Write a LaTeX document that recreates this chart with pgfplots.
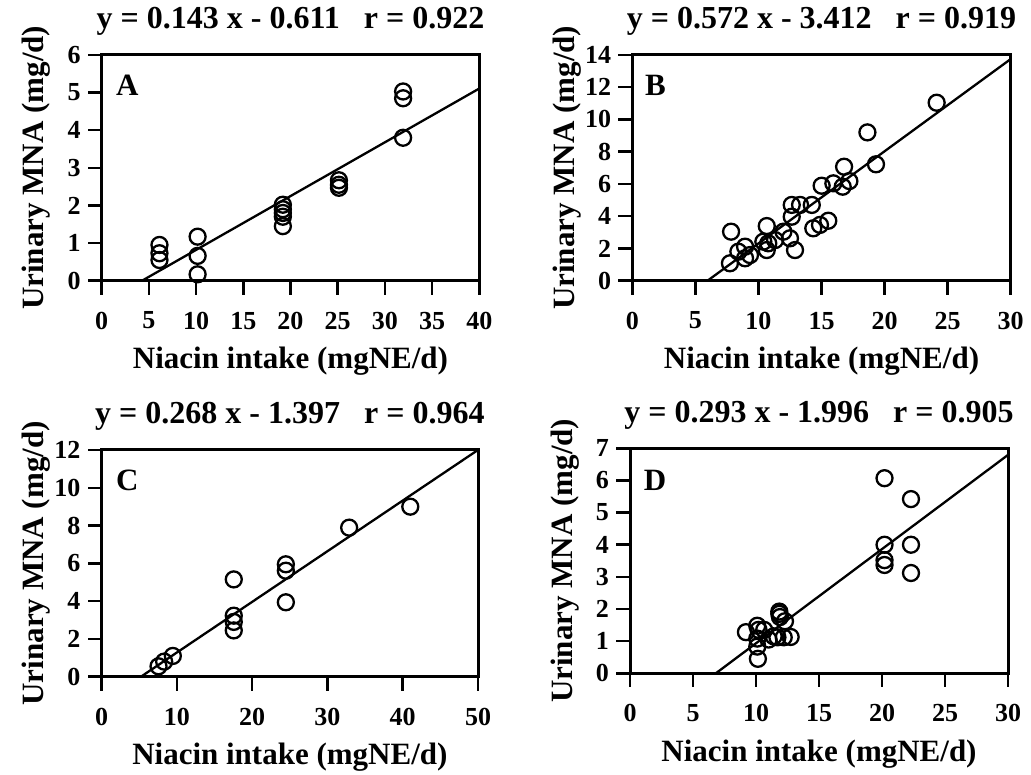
\documentclass[border=0pt]{standalone}
\usepackage{fontspec}
\setmainfont{Liberation Serif}
\usepackage{pgfplots}
\pgfplotsset{compat=1.18}
\tikzset{letter/.style={font=\fontsize{31}{36}\selectfont\bfseries, anchor=center, inner sep=0pt}}
\pgfplotsset{
  panel/.style={
    scale only axis,
    anchor=south west,
    clip=false,
    axis line style={line width=3pt},
    xtick align=inside, ytick align=inside,
    xtick pos=left, ytick pos=left,
    major tick length=-14pt,
    every tick/.style={black, line width=2.5pt},
    tick label style={font=\fontsize{26}{30}\selectfont\bfseries, inner sep=0pt},
    /pgf/number format/assume math mode=true,
    xticklabel style={anchor=north, yshift=-31pt},
    yticklabel style={anchor=east, xshift=-21pt},
    label style={font=\fontsize{31}{36}\selectfont\bfseries, inner sep=0pt},
    xlabel={Niacin intake (mgNE/d)},
    ylabel={Urinary MNA (mg/d)},
    xlabel style={at={(axis description cs:0.5,0)}, anchor=base, yshift=-88pt},
    title style={font=\fontsize{32}{38}\selectfont\bfseries, at={(axis description cs:0.5,1)}, anchor=base, yshift=20pt, inner sep=0pt},
  },
  mkticks/.style 2 args={
    after end axis/.code={
      \foreach \t in {#1} {\draw[black, line width=2.5pt] (axis cs:\t,0) -- ++(0pt,-14pt);}
      \foreach \t in {#2} {\draw[black, line width=2.5pt] (axis cs:0,\t) -- ++(-14pt,0pt);}
    }
  },
  pts/.style={only marks, mark=o, mark size=8pt, mark options={line width=2.3pt, black}},
  reg/.style={black, line width=2.3pt, no marks},
}
\begin{document}
\begin{tikzpicture}
\useasboundingbox (0pt,0pt) rectangle (1031pt,774pt);
% ---------- A ----------
\begin{axis}[panel, at={(101.7pt,493.3pt)}, width=377.6pt, height=225.7pt,
  xmin=0, xmax=40, ymin=0, ymax=6, xtick={0,5,...,40}, ytick={0,1,...,6},
  mkticks={0,5,10,15,20,25,30,35,40}{0,1,2,3,4,5,6},
  ylabel style={at={(axis description cs:-0.1536,0.5)}, anchor=base},
  title={y = 0.143 x - 0.611\hspace{0.75em}r = 0.922}]
\addplot[reg] coordinates {(4.273,0) (40,5.109)};
\addplot[pts] coordinates {
(6.12,0.95) (6.12,0.73) (6.12,0.55)
(10.16,1.17) (10.16,0.66) (10.16,0.17)
(19.19,2.02) (19.19,1.9) (19.19,1.8) (19.19,1.7) (19.19,1.45)
(25.13,2.67) (25.13,2.55) (25.13,2.47)
(31.93,5.03) (31.93,4.85) (31.93,3.8)
};
\node[letter] at (rel axis cs:0.068,0.865) {A};
\end{axis}
% ---------- B ----------
\begin{axis}[panel, at={(632.3pt,493.3pt)}, width=378.4pt, height=225.7pt,
  xmin=0, xmax=30, ymin=0, ymax=14, xtick={0,5,...,30}, ytick={0,2,...,14},
  mkticks={0,5,10,15,20,25,30}{0,2,4,6,8,10,12,14},
  ylabel style={at={(axis description cs:-0.1533,0.5)}, anchor=base},
  title={y = 0.572 x - 3.412\hspace{0.75em}r = 0.919}]
\addplot[reg] coordinates {(5.965,0) (30,13.748)};
\addplot[pts] coordinates {
(7.83,3.04) (7.74,1.08) (8.41,1.80) (8.94,2.11) (8.94,1.39) (9.33,1.59)
(10.66,3.39) (10.39,2.42) (10.78,2.32) (10.66,1.90) (11.32,2.52) (11.98,3.04)
(12.5,2.63) (12.9,1.90) (12.64,3.97) (12.64,4.70) (13.3,4.70) (14.23,4.70)
(14.35,3.25) (14.88,3.46) (15.54,3.72)
(15.01,5.89) (15.94,6.04) (16.68,5.83) (16.79,7.07) (17.21,6.18)
(18.64,9.20) (19.32,7.22) (24.13,11.04)
};
\node[letter] at (rel axis cs:0.061,0.867) {B};
\end{axis}
% ---------- C ----------
\begin{axis}[panel, at={(101.7pt,97.3pt)}, width=376.3pt, height=226.7pt,
  xmin=0, xmax=50, ymin=0, ymax=12, xtick={0,10,...,50}, ytick={0,2,...,12},
  mkticks={0,10,20,30,40,50}{0,2,4,6,8,10,12},
  ylabel style={at={(axis description cs:-0.1541,0.5)}, anchor=base},
  title={y = 0.268 x - 1.397\hspace{0.75em}r = 0.964}]
\addplot[reg] coordinates {(5.213,0) (50,12.003)};
\addplot[pts] coordinates {
(7.55,0.55) (8.3,0.8) (9.45,1.1)
(17.55,5.15) (17.55,3.23) (17.55,2.9) (17.55,2.45)
(24.47,5.95) (24.47,5.61) (24.47,3.94)
(32.88,7.89) (41.0,9.0)
};
\node[letter] at (rel axis cs:0.068,0.868) {C};
\end{axis}
% ---------- D ----------
\begin{axis}[panel, at={(630pt,100.7pt)}, width=378pt, height=225pt,
  xmin=0, xmax=30, ymin=0, ymax=7, xtick={0,5,...,30}, ytick={0,1,...,7},
  mkticks={0,5,10,15,20,25,30}{0,1,2,3,4,5,6,7},
  ylabel style={at={(axis description cs:-0.1534,0.5)}, anchor=base},
  title={y = 0.293 x - 1.996\hspace{0.75em}r = 0.905}]
\addplot[reg] coordinates {(6.812,0) (30,6.794)};
\addplot[pts] coordinates {
(9.2,1.28) (10.1,1.48) (10.2,1.35) (10.1,1.08) (10.1,0.83) (10.15,0.45)
(10.65,1.35) (11.0,1.05) (11.4,1.15) (11.85,1.92) (11.85,1.85) (11.9,1.75)
(12.3,1.62) (11.7,1.12) (12.2,1.12) (12.75,1.13)
(20.2,6.07) (22.3,5.42) (20.2,4.0) (22.3,4.0) (20.2,3.52) (20.2,3.37) (22.3,3.12)
};
\node[letter] at (rel axis cs:0.066,0.858) {D};
\end{axis}
\end{tikzpicture}
\end{document}
